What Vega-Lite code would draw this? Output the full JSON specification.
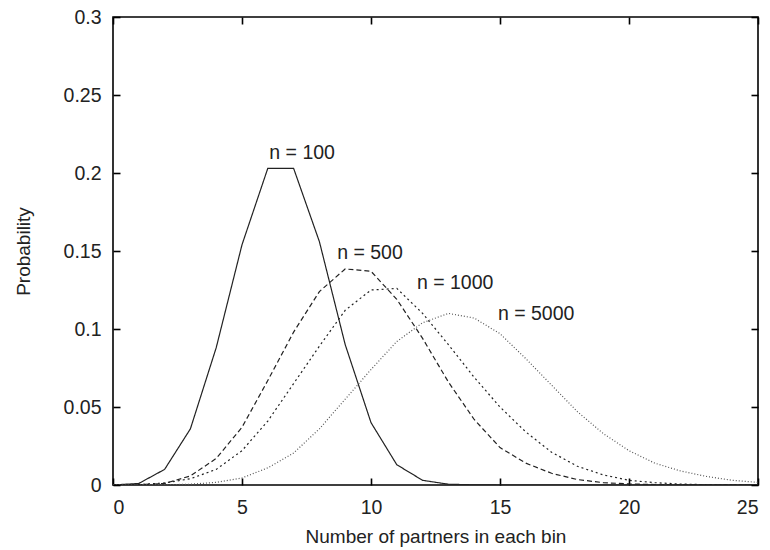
{
  "$schema": "https://vega.github.io/schema/vega-lite/v6.json",
  "autosize": {"type": "none"},
  "padding": {"left": 113, "top": 17, "right": 12, "bottom": 65},
  "width": 645,
  "height": 468,
  "background": "white",
  "config": {
    "view": {"stroke": "black", "strokeWidth": 1.6},
    "font": "Liberation Sans",
    "axis": {
      "domain": false,
      "grid": false,
      "tickColor": "black",
      "tickWidth": 1.6,
      "tickSize": -7,
      "labelColor": "#222",
      "titleColor": "#222",
      "labelFontSize": 19.5,
      "titleFontSize": 19,
      "titleFontWeight": "normal",
      "labelFont": "Liberation Sans",
      "titleFont": "Liberation Sans"
    }
  },
  "datasets": {
    "curves": [
      {"n": "n = 100", "k": 0, "p": 0.0}, {"n": "n = 100", "k": 1, "p": 0.001}, {"n": "n = 100", "k": 2, "p": 0.010},
      {"n": "n = 100", "k": 3, "p": 0.036}, {"n": "n = 100", "k": 4, "p": 0.088}, {"n": "n = 100", "k": 5, "p": 0.154},
      {"n": "n = 100", "k": 6, "p": 0.203}, {"n": "n = 100", "k": 7, "p": 0.203}, {"n": "n = 100", "k": 8, "p": 0.156},
      {"n": "n = 100", "k": 9, "p": 0.090}, {"n": "n = 100", "k": 10, "p": 0.040}, {"n": "n = 100", "k": 11, "p": 0.013},
      {"n": "n = 100", "k": 12, "p": 0.003}, {"n": "n = 100", "k": 13, "p": 0.0005}, {"n": "n = 100", "k": 14, "p": 0.0001},
      {"n": "n = 100", "k": 15, "p": 0.0}, {"n": "n = 100", "k": 16, "p": 0.0}, {"n": "n = 100", "k": 17, "p": 0.0},
      {"n": "n = 100", "k": 18, "p": 0.0}, {"n": "n = 100", "k": 19, "p": 0.0}, {"n": "n = 100", "k": 20, "p": 0.0},
      {"n": "n = 100", "k": 21, "p": 0.0}, {"n": "n = 100", "k": 22, "p": 0.0}, {"n": "n = 100", "k": 23, "p": 0.0},
      {"n": "n = 100", "k": 24, "p": 0.0}, {"n": "n = 100", "k": 25, "p": 0.0},

      {"n": "n = 500", "k": 0, "p": 0.0}, {"n": "n = 500", "k": 1, "p": 0.0002}, {"n": "n = 500", "k": 2, "p": 0.001},
      {"n": "n = 500", "k": 3, "p": 0.0058}, {"n": "n = 500", "k": 4, "p": 0.017}, {"n": "n = 500", "k": 5, "p": 0.037},
      {"n": "n = 500", "k": 6, "p": 0.067}, {"n": "n = 500", "k": 7, "p": 0.098}, {"n": "n = 500", "k": 8, "p": 0.124},
      {"n": "n = 500", "k": 9, "p": 0.1385}, {"n": "n = 500", "k": 10, "p": 0.137}, {"n": "n = 500", "k": 11, "p": 0.119},
      {"n": "n = 500", "k": 12, "p": 0.094}, {"n": "n = 500", "k": 13, "p": 0.066}, {"n": "n = 500", "k": 14, "p": 0.042},
      {"n": "n = 500", "k": 15, "p": 0.024}, {"n": "n = 500", "k": 16, "p": 0.014}, {"n": "n = 500", "k": 17, "p": 0.0075},
      {"n": "n = 500", "k": 18, "p": 0.0035}, {"n": "n = 500", "k": 19, "p": 0.0015}, {"n": "n = 500", "k": 20, "p": 0.0007},
      {"n": "n = 500", "k": 21, "p": 0.0003}, {"n": "n = 500", "k": 22, "p": 0.0001}, {"n": "n = 500", "k": 23, "p": 0.0},
      {"n": "n = 500", "k": 24, "p": 0.0}, {"n": "n = 500", "k": 25, "p": 0.0},

      {"n": "n = 1000", "k": 0, "p": 0.0}, {"n": "n = 1000", "k": 1, "p": 0.0003}, {"n": "n = 1000", "k": 2, "p": 0.0013},
      {"n": "n = 1000", "k": 3, "p": 0.004}, {"n": "n = 1000", "k": 4, "p": 0.010}, {"n": "n = 1000", "k": 5, "p": 0.022},
      {"n": "n = 1000", "k": 6, "p": 0.041}, {"n": "n = 1000", "k": 7, "p": 0.065}, {"n": "n = 1000", "k": 8, "p": 0.089},
      {"n": "n = 1000", "k": 9, "p": 0.112}, {"n": "n = 1000", "k": 10, "p": 0.125}, {"n": "n = 1000", "k": 11, "p": 0.126},
      {"n": "n = 1000", "k": 12, "p": 0.110}, {"n": "n = 1000", "k": 13, "p": 0.090}, {"n": "n = 1000", "k": 14, "p": 0.069},
      {"n": "n = 1000", "k": 15, "p": 0.050}, {"n": "n = 1000", "k": 16, "p": 0.034}, {"n": "n = 1000", "k": 17, "p": 0.021},
      {"n": "n = 1000", "k": 18, "p": 0.012}, {"n": "n = 1000", "k": 19, "p": 0.0065}, {"n": "n = 1000", "k": 20, "p": 0.003},
      {"n": "n = 1000", "k": 21, "p": 0.0015}, {"n": "n = 1000", "k": 22, "p": 0.0006}, {"n": "n = 1000", "k": 23, "p": 0.0002},
      {"n": "n = 1000", "k": 24, "p": 0.0001}, {"n": "n = 1000", "k": 25, "p": 0.0},

      {"n": "n = 5000", "k": 0, "p": 0.0}, {"n": "n = 5000", "k": 1, "p": 0.0}, {"n": "n = 5000", "k": 2, "p": 0.0001},
      {"n": "n = 5000", "k": 3, "p": 0.0005}, {"n": "n = 5000", "k": 4, "p": 0.0017}, {"n": "n = 5000", "k": 5, "p": 0.0045},
      {"n": "n = 5000", "k": 6, "p": 0.011}, {"n": "n = 5000", "k": 7, "p": 0.0205}, {"n": "n = 5000", "k": 8, "p": 0.036},
      {"n": "n = 5000", "k": 9, "p": 0.055}, {"n": "n = 5000", "k": 10, "p": 0.074}, {"n": "n = 5000", "k": 11, "p": 0.092},
      {"n": "n = 5000", "k": 12, "p": 0.104}, {"n": "n = 5000", "k": 13, "p": 0.110}, {"n": "n = 5000", "k": 14, "p": 0.107},
      {"n": "n = 5000", "k": 15, "p": 0.097}, {"n": "n = 5000", "k": 16, "p": 0.081}, {"n": "n = 5000", "k": 17, "p": 0.064},
      {"n": "n = 5000", "k": 18, "p": 0.047}, {"n": "n = 5000", "k": 19, "p": 0.033}, {"n": "n = 5000", "k": 20, "p": 0.022},
      {"n": "n = 5000", "k": 21, "p": 0.014}, {"n": "n = 5000", "k": 22, "p": 0.009}, {"n": "n = 5000", "k": 23, "p": 0.0055},
      {"n": "n = 5000", "k": 24, "p": 0.003}, {"n": "n = 5000", "k": 25, "p": 0.0017}
    ],
    "labels": [
      {"label": "n = 100", "k": 7.33, "p": 0.2128},
      {"label": "n = 500", "k": 9.96, "p": 0.149},
      {"label": "n = 1000", "k": 13.26, "p": 0.1295},
      {"label": "n = 5000", "k": 16.4, "p": 0.1095}
    ]
  },
  "layer": [
    {
      "data": {"name": "curves"},
      "mark": {"type": "line", "strokeWidth": 1.2, "clip": true},
      "encoding": {
        "x": {
          "field": "k", "type": "quantitative",
          "scale": {"domain": [0, 25], "nice": false},
          "axis": {"orient": "bottom", "values": [0, 5, 10, 15, 20, 25], "title": "Number of partners in each bin", "labelPadding": 20, "titlePadding": 11}
        },
        "y": {
          "field": "p", "type": "quantitative",
          "scale": {"domain": [0, 0.3], "nice": false},
          "axis": {"orient": "left", "values": [0, 0.05, 0.1, 0.15, 0.2, 0.25, 0.3], "format": "~g", "title": "Probability", "labelPadding": 19, "titlePadding": 30}
        },
        "detail": {"field": "n"},
        "strokeDash": {
          "field": "n", "type": "nominal",
          "scale": {"domain": ["n = 100", "n = 500", "n = 1000", "n = 5000"], "range": [[1, 0], [5, 3], [2, 3], [1, 2]]},
          "legend": null
        },
        "color": {
          "field": "n", "type": "nominal",
          "scale": {"domain": ["n = 100", "n = 500", "n = 1000", "n = 5000"], "range": ["#222222", "#222222", "#222222", "#555555"]},
          "legend": null
        }
      }
    },
    {
      "data": {"name": "labels"},
      "mark": {"type": "text", "fontSize": 19.5, "font": "Liberation Sans", "color": "#222"},
      "encoding": {
        "x": {"field": "k", "type": "quantitative", "axis": {"orient": "top", "values": [0, 5, 10, 15, 20, 25], "labels": false, "title": null}},
        "y": {"field": "p", "type": "quantitative", "axis": {"orient": "right", "values": [0, 0.05, 0.1, 0.15, 0.2, 0.25, 0.3], "labels": false, "title": null}},
        "text": {"field": "label"}
      }
    }
  ],
  "resolve": {"axis": {"x": "independent", "y": "independent"}}
}
